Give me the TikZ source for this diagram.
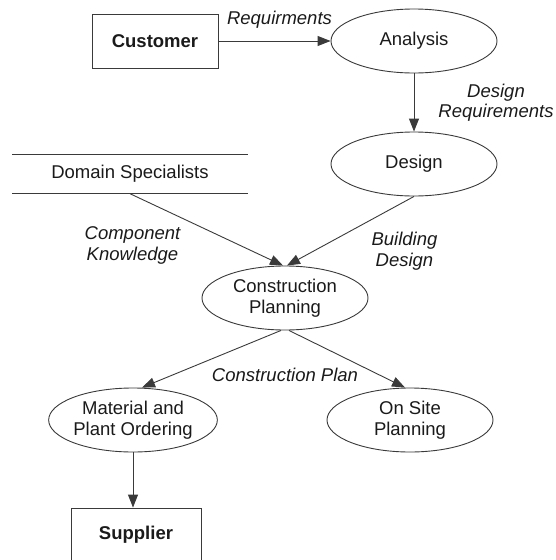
\documentclass[tikz,border=0pt]{standalone}
\usepackage{fontspec}
\setmainfont{Liberation Sans}
\usepackage{tikz}
\usetikzlibrary{shapes.geometric, arrows.meta, positioning, calc}
\definecolor{linegray}{HTML}{3A3A3A}
\definecolor{textgray}{HTML}{1A1A1A}

\begin{document}
\begin{tikzpicture}[
    x=1pt, y=-1pt,
    every node/.style={font=\fontsize{18.5}{20.5}\selectfont, text=textgray},
    process/.style={ellipse, draw=linegray, line width=0.9pt, minimum width=166pt, minimum height=64pt, inner sep=0pt, align=center},
    entity/.style={rectangle, draw=linegray, line width=0.9pt, minimum width=126pt, minimum height=54pt, font=\fontsize{18.5}{20.5}\selectfont\bfseries},
    store/.style={rectangle, minimum width=235pt, minimum height=39pt, inner sep=0pt},
    flow/.style={draw=linegray, line width=0.9pt, -{Triangle[length=13pt, width=10pt]}},
    flowlabel/.style={font=\fontsize{18.5}{20.5}\selectfont\itshape, align=center, inner sep=0pt}
]
\useasboundingbox (0,0) rectangle (556,560);

% External entities
\node[entity] (customer) at (155,41) {Customer};
\node[entity, minimum width=130pt] (supplier) at (136,535) {Supplier};

% Processes
\node[process] (analysis) at (414,41) {Analysis};
\node[process] (design) at (414,164) {Design};
\node[process] (planning) at (285,298) {Construction\\Planning};
\node[process] (ordering) at (133,420) {Material and\\Plant Ordering};
\node[process] (onsite) at (410,420) {On Site\\Planning};

% Data store
\node[store] (specialists) at (130,174) {Domain Specialists};
\draw[linegray, line width=0.9pt] (specialists.north west) -- (specialists.north east)
    (specialists.south west) -- (specialists.south east);

% Flows
\draw[flow] (customer) -- node[flowlabel, above=12pt, xshift=5pt] {Requirments} (analysis);
\draw[flow] (analysis) -- node[flowlabel, right=24pt] {Design\\Requirements} (design);
\draw[flow] (specialists.south) -- node[flowlabel, xshift=-74pt, yshift=-16pt] {Component\\Knowledge} ([xshift=-2pt]planning.north);
\draw[flow] (design.south) -- node[flowlabel, xshift=54pt, yshift=-20pt] {Building\\Design} ([xshift=2pt]planning.north);
\draw[flow] ([xshift=-4pt]planning.south) -- ([xshift=9pt]ordering.north);
\draw[flow] ([xshift=4pt]planning.south) -- ([xshift=-5pt]onsite.north);
\node[flowlabel, below=37pt of planning] (planlabel) {Construction Plan};
\draw[flow] (ordering) -- (ordering |- supplier.north);

\end{tikzpicture}
\end{document}
